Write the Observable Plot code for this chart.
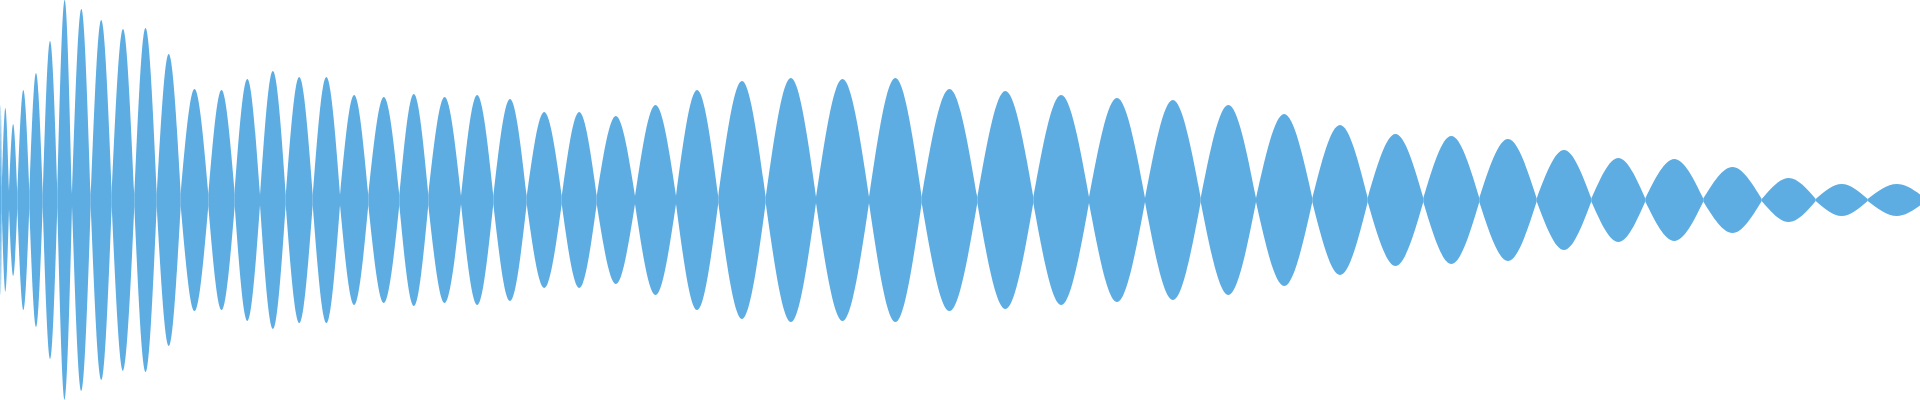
<!DOCTYPE html>
<html>
<head>
<meta charset="utf-8">
<script src="https://cdn.jsdelivr.net/npm/d3@7"></script>
<script src="https://cdn.jsdelivr.net/npm/@observablehq/plot@0.6"></script>
<style>
  html, body { margin: 0; padding: 0; background: #ffffff; }
  #chart svg { display: block; }
</style>
</head>
<body>
<div id="chart"></div>
<script>
// Zero crossings of the waveform (x positions, px-domain units 0..1920)
const zeros = [0, 1.7, 9, 17.3, 29.3, 42.7, 57.3, 72, 90.7, 111.7, 134.3, 156.7, 180.7,
  208.3, 234.7, 260, 285.7, 312.7, 340, 368.3, 399.3, 428.3, 461, 493.3, 526.7, 561.7,
  596.7, 635, 676, 718.3, 765.7, 816, 869, 921.7, 977.3, 1033.3, 1089, 1145, 1200.7,
  1256, 1312.3, 1367.7, 1423.3, 1479.3, 1536.7, 1591.3, 1645.3, 1703.3, 1761.7, 1815.7,
  1867.7, 1926];
// Residual half-thickness of the wave at each crossing
const necks = [9, 9, 9, 8, 8, 6, 7, 6, 6, 6, 6, 6, 6,
  6, 6, 5, 5, 5, 5, 5, 5, 5, 4, 4, 4, 4,
  4, 4, 4, 3, 3, 3, 3, 3, 3, 3, 3, 2, 2,
  2, 2, 2, 2, 2, 1.5, 1.5, 1.5, 1.5, 1, 1,
  1, 1];
// Peak amplitude of each lobe between consecutive zero crossings
const peaks = [95, 92, 76, 110, 127, 159, 200, 191, 180, 171, 172, 146, 111, 110, 121,
  129, 123, 123, 105, 103, 106, 103, 105, 101, 88, 88, 84, 95, 110, 119, 122, 121, 122,
  111, 109, 105, 102, 100, 95, 86, 75, 66, 64, 61, 50, 42, 41, 33, 22, 16, 16];

const rows = [];
peaks.forEach((a, i) => {
  const x0 = zeros[i], x1 = zeros[i + 1];
  rows.push({lobe: i, x: x0, v: necks[i]});
  rows.push({lobe: i, x: (x0 + x1) / 2, v: a});
  rows.push({lobe: i, x: x1, v: necks[i + 1]});
});

const chart = Plot.plot({
  width: 1920,
  height: 400,
  margin: 0,
  x: {domain: [0, 1920], axis: null},
  y: {domain: [-200, 200], axis: null},
  marks: [
    Plot.areaY(rows, {
      x: "x",
      y1: d => -d.v,
      y2: d => d.v,
      z: "lobe",
      fill: "#5DADE2",
      curve: "natural",
      clip: true
    })
  ]
});
document.getElementById("chart").appendChild(chart);
</script>
</body>
</html>
